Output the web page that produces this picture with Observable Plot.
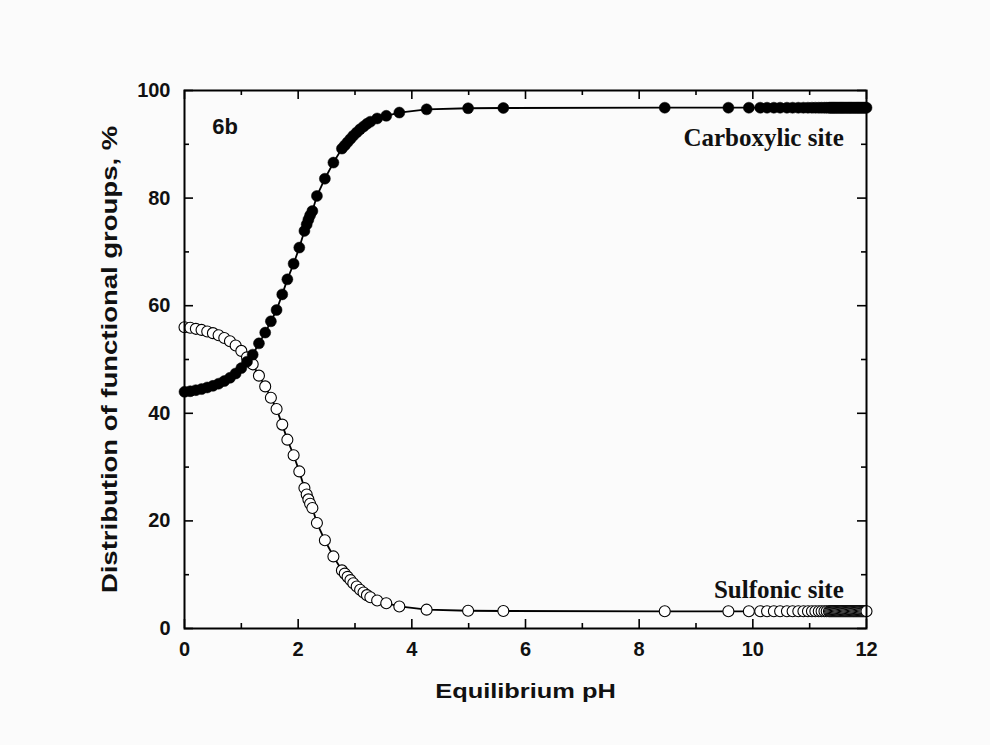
<!DOCTYPE html>
<html><head><meta charset="utf-8">
<script src="https://cdn.jsdelivr.net/npm/d3@7"></script>
<script src="https://cdn.jsdelivr.net/npm/@observablehq/plot@0.6"></script>
<style>body{margin:0;background:#fbfbfb}</style>
</head><body><div id="chart"></div>
<script>
const pH = [0, 0.1, 0.2, 0.3, 0.4, 0.5, 0.6, 0.7, 0.8, 0.9, 1.0, 1.1, 1.2,
  1.31, 1.42, 1.52, 1.62, 1.72, 1.81, 1.92, 2.02, 2.11, 2.15, 2.18, 2.21, 2.25, 2.33, 2.47, 2.62, 2.77,
  2.82, 2.87, 2.92, 2.97, 3.03, 3.09, 3.15, 3.21, 3.27, 3.39, 3.55, 3.78, 4.26, 4.99, 5.61, 8.45, 9.57, 9.93,
  10.13, 10.25, 10.37, 10.48, 10.6, 10.7, 10.8, 10.89, 10.97, 11.04, 11.1, 11.16, 11.21, 11.26, 11.3,
  11.34, 11.36, 11.38, 11.40, 11.42, 11.44, 11.46, 11.48, 11.50, 11.52,
  11.54, 11.56, 11.58, 11.60, 11.62, 11.64, 11.66, 11.68, 11.70, 11.72,
  11.74, 11.76, 11.78, 11.80, 11.82, 11.84, 11.86, 11.88, 11.90, 11.92,
  11.94, 11.96, 11.98, 12.00];
const carboxylic = [44.0, 44.1, 44.3, 44.5, 44.8, 45.1, 45.5, 46.0, 46.6, 47.4, 48.4, 49.6, 50.9,
  53.0, 55.0, 57.1, 59.2, 62.1, 64.9, 67.8, 70.8, 73.9, 75.1, 76.0, 76.8, 77.6, 80.4, 83.6, 86.6, 89.2,
  89.8, 90.4, 91.0, 91.6, 92.2, 92.8, 93.3, 93.8, 94.2, 94.8, 95.3, 95.9, 96.5, 96.7, 96.75, 96.8, 96.8, 96.8,
  96.8, 96.8, 96.8, 96.8, 96.8, 96.8, 96.8, 96.8, 96.8, 96.8, 96.8, 96.8, 96.8, 96.8, 96.8,
  96.8, 96.8, 96.8, 96.8, 96.8, 96.8, 96.8, 96.8, 96.8, 96.8,
  96.8, 96.8, 96.8, 96.8, 96.8, 96.8, 96.8, 96.8, 96.8, 96.8,
  96.8, 96.8, 96.8, 96.8, 96.8, 96.8, 96.8, 96.8, 96.8, 96.8,
  96.8, 96.8, 96.8, 96.8];
const sulfonic = [56.0, 55.9, 55.7, 55.5, 55.2, 54.9, 54.5, 54.0, 53.4, 52.6, 51.6, 50.4, 49.1,
  47.0, 45.0, 42.9, 40.8, 37.9, 35.1, 32.2, 29.2, 26.1, 24.9, 24.0, 23.2, 22.4, 19.6, 16.4, 13.4, 10.8,
  10.2, 9.6, 9.0, 8.4, 7.8, 7.2, 6.7, 6.2, 5.8, 5.2, 4.7, 4.1, 3.5, 3.3, 3.25, 3.2, 3.2, 3.2,
  3.2, 3.2, 3.2, 3.2, 3.2, 3.2, 3.2, 3.2, 3.2, 3.2, 3.2, 3.2, 3.2, 3.2, 3.2,
  3.2, 3.2, 3.2, 3.2, 3.2, 3.2, 3.2, 3.2, 3.2, 3.2,
  3.2, 3.2, 3.2, 3.2, 3.2, 3.2, 3.2, 3.2, 3.2, 3.2,
  3.2, 3.2, 3.2, 3.2, 3.2, 3.2, 3.2, 3.2, 3.2, 3.2,
  3.2, 3.2, 3.2, 3.2];
const xTicks = [0, 2, 4, 6, 8, 10, 12];
const xMinor = [1, 3, 5, 7, 9, 11];
const yTicks = [0, 20, 40, 60, 80, 100];
const yMinor = [10, 30, 50, 70, 90];
const xLabel = "Equilibrium pH";
const yLabel = "Distribution of functional groups, %";
const panelTag = [{text: "6b", x: 0.49, y: 93.3}];
const seriesLabels = [
  {text: "Carboxylic site", x: 11.6, y: 91.2},
  {text: "Sulfonic site", x: 11.6, y: 7.2}
];

const carb = pH.map((x, i) => ({x, y: carboxylic[i]}));
const sulf = pH.map((x, i) => ({x, y: sulfonic[i]}));

const W = 990, H = 745, mL = 184, mR = 124, mT = 90, mB = 117;
const pw = W - mL - mR, ph = H - mT - mB;
const sans = "'Liberation Sans', Arial, sans-serif";
const serif = "'Liberation Serif', 'Times New Roman', serif";
const major = 9, minor = 5;

const svg = Plot.plot({
  width: W, height: H, marginLeft: mL, marginRight: mR, marginTop: mT, marginBottom: mB,
  style: {fontFamily: sans, fontWeight: "bold", background: "#fbfbfb", color: "#111", fontSize: "20px"},
  x: {domain: [0, 12]},
  y: {domain: [0, 100]},
  marks: [
    Plot.axisX(xTicks, {tickSize: 0, tickPadding: 13, fontSize: 20, label: null}),
    Plot.axisY(yTicks, {tickSize: 0, tickPadding: 14, fontSize: 20, label: null}),
    // inward ticks on all four sides
    Plot.tickX(xTicks, {x: d => d, insetTop: ph - major, stroke: "#000", strokeWidth: 1.6}),
    Plot.tickX(xMinor, {x: d => d, insetTop: ph - minor, stroke: "#000", strokeWidth: 1.6}),
    Plot.tickX(xTicks, {x: d => d, insetBottom: ph - major, stroke: "#000", strokeWidth: 1.6}),
    Plot.tickX(xMinor, {x: d => d, insetBottom: ph - minor, stroke: "#000", strokeWidth: 1.6}),
    Plot.tickY(yTicks, {y: d => d, insetRight: pw - major, stroke: "#000", strokeWidth: 1.6}),
    Plot.tickY(yMinor, {y: d => d, insetRight: pw - minor, stroke: "#000", strokeWidth: 1.6}),
    Plot.tickY(yTicks, {y: d => d, insetLeft: pw - major, stroke: "#000", strokeWidth: 1.6}),
    Plot.tickY(yMinor, {y: d => d, insetLeft: pw - minor, stroke: "#000", strokeWidth: 1.6}),
    // series
    Plot.line(sulf, {x: "x", y: "y", stroke: "#000", strokeWidth: 1.8}),
    Plot.dot(sulf, {x: "x", y: "y", r: 5.5, fill: "#fff", stroke: "#000", strokeWidth: 1.1}),
    Plot.line(carb, {x: "x", y: "y", stroke: "#000", strokeWidth: 1.8}),
    Plot.dot(carb, {x: "x", y: "y", r: 5.5, fill: "#000", stroke: "#000", strokeWidth: 0.5}),
    Plot.frame({stroke: "#000", strokeWidth: 2}),
    // annotations
    Plot.text(panelTag, {x: "x", y: "y", text: "text", textAnchor: "start", fontSize: 22, fontFamily: sans, fontWeight: "bold", fill: "#111"}),
    Plot.text(seriesLabels, {x: "x", y: "y", text: "text", textAnchor: "end", fontSize: 25, fontFamily: serif, fontWeight: "bold", fill: "#111"}),
    // axis titles
    Plot.text([xLabel], {text: d => d, frameAnchor: "bottom", textAnchor: "middle", lineAnchor: "middle", dy: 63, fontSize: 20, fontWeight: "bold", fill: "#111"}),
    Plot.text([yLabel], {text: d => d, frameAnchor: "left", textAnchor: "middle", lineAnchor: "middle", dx: -75, rotate: -90, fontSize: 22, fontWeight: "bold", fill: "#111"})
  ]
});

function stretch(el, s) {
  const tr = el.getAttribute("transform") || "";
  const x = +el.getAttribute("x") || 0, y = +el.getAttribute("y") || 0;
  el.setAttribute("transform", `${tr} translate(${x},${y}) scale(${s},1) translate(${-x},${-y})`);
}
d3.select(svg).selectAll("text").each(function() {
  const t = this.textContent;
  if (t === xLabel) stretch(this, 1.27);
  if (t === yLabel) stretch(this, 1.25);
});

document.getElementById("chart").append(svg);
</script>
</body></html>
